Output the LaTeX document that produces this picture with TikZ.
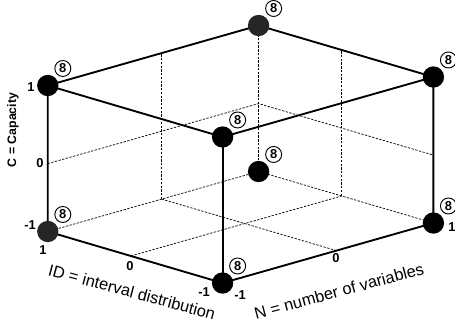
\documentclass[tikz,border=0pt]{standalone}
\usepackage{fontspec}
\setmainfont{Liberation Sans}
\usetikzlibrary{positioning}

\tikzset{
  edge/.style={line width=1.6pt},
  gridline/.style={line width=0.6pt, dash pattern=on 2pt off 1.2pt},
  dot/.style={circle, fill=black, minimum size=0.64cm, inner sep=0pt},
  count/.style={circle, draw, line width=0.8pt, minimum size=0.48cm, inner sep=0pt,
    font=\fontsize{11}{13}\selectfont\bfseries},
  tick/.style={font=\fontsize{11}{13}\selectfont\bfseries, inner sep=0pt},
  axislabel/.style={font=\fontsize{14}{16}\selectfont, inner sep=0pt}
}

\def\idz{0.05}
\def\nz{0.08}
\def\cz{-0.07}

\begin{document}
\begin{tikzpicture}[x=0.03cm, y=-0.03cm]
\useasboundingbox (0,0) rectangle (455,331);

\begin{scope}[shift={(240.6,154.25)}, x={(-2.622cm,0.7725cm)}, y={(3.162cm,0.9cm)}, z={(0cm,2.19cm)}]
% corners: (ID, N, C)
\coordinate (tl) at (1,-1,1);
\coordinate (tb) at (1,1,1);
\coordinate (tr) at (-1,1,1);
\coordinate (tf) at (-1,-1,1);
\coordinate (bl) at (1,-1,-1);
\coordinate (bb) at (1,1,-1);
\coordinate (br) at (-1,1,-1);
\coordinate (bf) at (-1,-1,-1);

% grid on the floor
\draw[gridline] (bl) -- (bb) -- (br);
\draw[gridline] (\idz,-1,-1) -- (\idz,1,-1);
\draw[gridline] (1,\nz,-1) -- (-1,\nz,-1);
% grid on the back walls
\draw[gridline] (bb) -- (tb);
\draw[gridline] (1,\nz,-1) -- (1,\nz,1);
\draw[gridline] (\idz,1,-1) -- (\idz,1,1);
\draw[gridline] (1,-1,\cz) -- (1,1,\cz) -- (-1,1,\cz);
\end{scope}

% cube edges
\draw[edge] (tl) -- (tb) -- (tr) -- (tf) -- cycle;
\draw[edge] (tl) -- (bl) -- (bf) -- (br) -- (tr);
\draw[edge] (tf) -- (bf);

% design points
\foreach \c in {tl,tr,tf,bb,bf,br}
  \node[dot] (\c dot) at (\c) {};
\foreach \c in {tb,bl}
  \node[dot, fill=black!85] (\c dot) at (\c) {};
\foreach \c in {tl,tb,tr,tf,bl,bb,bf,br}
  \node[count, above right=0.1cm and 0.04cm of \c dot] (\c num) {8};

% ticks
\node[tick] (c1) at (31,87) {1};
\node[tick] (c0) at (40,163) {0};
\node[tick] (cm1) at (30,225) {-1};
\node[tick] (id1) at (43,250) {1};
\node[tick] (id0) at (130,266) {0};
\node[tick] (idm1) at (204,292) {-1};
\node[tick] (nm1) at (240,295) {-1};
\node[tick] (n0) at (336,258) {0};
\node[tick] (n1) at (452,227) {1};

% axis labels
\node[font=\fontsize{10.5}{12}\selectfont\bfseries, rotate=90] (clabel) at (13,130) {C = Capacity};
\node[axislabel, rotate=-15] (idlabel) at (132,292) {ID = interval distribution};
\node[axislabel, rotate=15] (nlabel) at (339,291) {N = number of variables};
\end{tikzpicture}
\end{document}
